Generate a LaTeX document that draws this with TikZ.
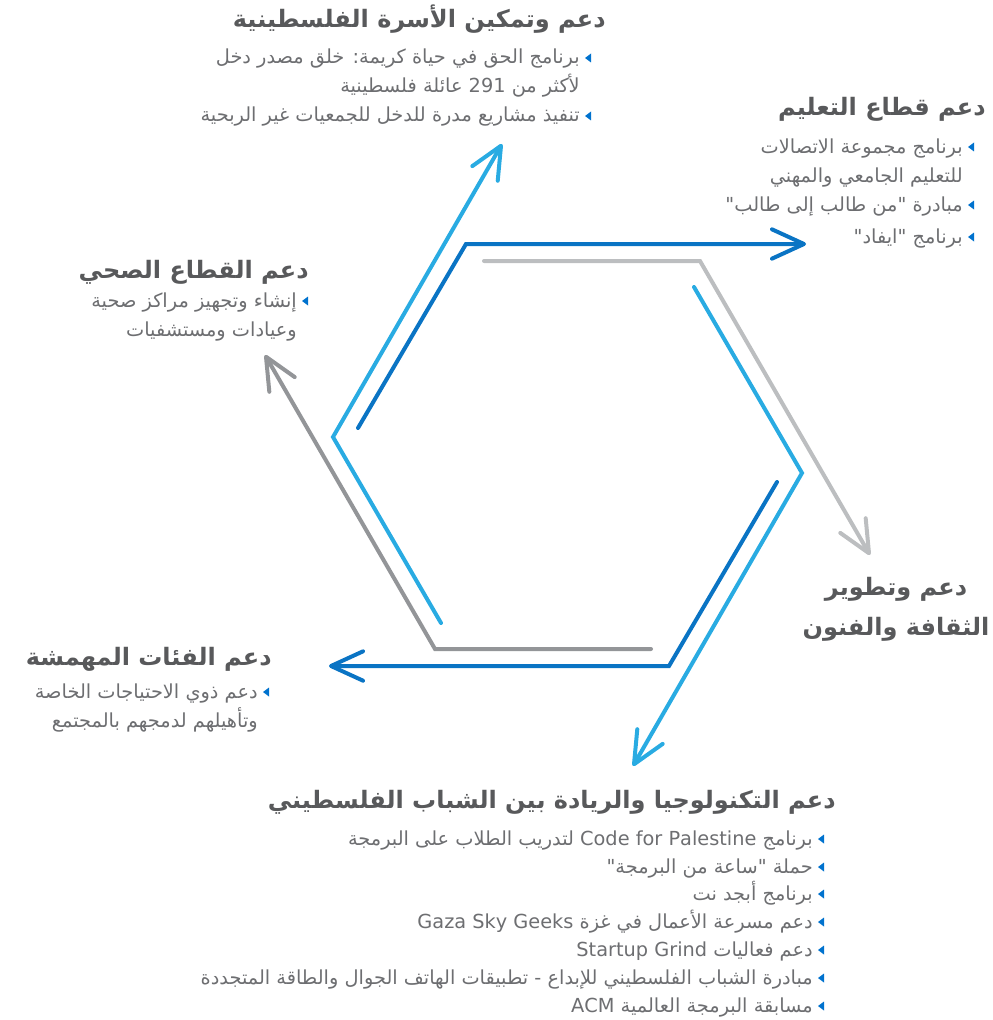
\documentclass[tikz,border=0pt]{standalone}
\usepackage{fontspec}
\usetikzlibrary{arrows.meta}
\TeXXeTstate=1
\newfontfamily\arabicfont[Script=Arabic]{DejaVu Sans}
\definecolor{dblue}{HTML}{0A74C4}
\definecolor{lblue}{HTML}{29ABE2}
\definecolor{lgrey}{HTML}{BCBEC0}
\definecolor{dgrey}{HTML}{939598}
\definecolor{ttlcol}{HTML}{58595B}
\definecolor{txtcol}{HTML}{6D6E71}
\definecolor{bulcol}{HTML}{0072CE}
\newcommand\rtl[1]{\beginR #1\endR}
\newcommand\ltr[1]{\beginL #1\endL{}}
\begin{document}
\begin{tikzpicture}[x=0.75pt,y=-0.75pt,
  conn/.style={line width=3pt, line cap=round, line join=miter,
    -{Straight Barb[length=24pt,width=22pt,round]}},
  ttl/.style={font=\arabicfont\bfseries\fontsize{18}{21}\selectfont, text=ttlcol, inner sep=0pt, anchor=base east},
  ttlc/.style={ttl, anchor=base},
  bdy/.style={font=\arabicfont\fontsize{14.5}{17}\selectfont, text=txtcol, inner sep=0pt, anchor=base east},
  pics/bulpic/.style={code={\fill[bulcol] (11,-10.5) -- (11,-1.5) -- (5,-6) -- cycle;}}]
\useasboundingbox (0,0) rectangle (992,1020);

% connectors
\coordinate (db1s) at (358,428); \coordinate (db1v) at (466,244); \coordinate (db1e) at (806,244);
\coordinate (db2s) at (777,482); \coordinate (db2v) at (669,666); \coordinate (db2e) at (329,666);
\coordinate (lg1s) at (484,261); \coordinate (lg1v) at (700,261); \coordinate (lg1e) at (870,555);
\coordinate (dg1s) at (651,649); \coordinate (dg1v) at (435,649); \coordinate (dg1e) at (265,355);
\coordinate (lb1s) at (441,623); \coordinate (lb1v) at (333,437); \coordinate (lb1e) at (502,144);
\coordinate (lb2s) at (694,287); \coordinate (lb2v) at (802,473); \coordinate (lb2e) at (633,766);

\draw[conn, draw=lgrey] (lg1s) -- (lg1v) -- (lg1e);
\draw[conn, draw=dgrey] (dg1s) -- (dg1v) -- (dg1e);
\draw[conn, draw=lblue] (lb1s) -- (lb1v) -- (lb1e);
\draw[conn, draw=lblue] (lb2s) -- (lb2v) -- (lb2e);
\draw[conn, draw=dblue] (db1s) -- (db1v) -- (db1e);
\draw[conn, draw=dblue] (db2s) -- (db2v) -- (db2e);

% family
\node[ttl] (t1) at (606,28) {\rtl{دعم وتمكين الأسرة الفلسطينية}};
\node[bdy] (b11) at (580,64) {\rtl{برنامج الحق في حياة كريمة: خلق مصدر دخل}};
\node[bdy] (b12) at (580,93) {\rtl{لأكثر من \ltr{291} عائلة فلسطينية}};
\node[bdy] (b13) at (580,122) {\rtl{تنفيذ مشاريع مدرة للدخل للجمعيات غير الربحية}};
\pic at (b11.base east) {bulpic}; \pic at (b13.base east) {bulpic};

% education
\node[ttl] (t2) at (986,116) {\rtl{دعم قطاع التعليم}};
\node[bdy] (b21) at (963,153) {\rtl{برنامج مجموعة الاتصالات}};
\node[bdy] (b22) at (963,182) {\rtl{للتعليم الجامعي والمهني}};
\node[bdy] (b23) at (963,211) {\rtl{مبادرة "من طالب إلى طالب"}};
\node[bdy] (b24) at (963,243) {\rtl{برنامج "ايفاد"}};
\pic at (b21.base east) {bulpic}; \pic at (b23.base east) {bulpic}; \pic at (b24.base east) {bulpic};

% health
\node[ttl] (t3) at (309,278) {\rtl{دعم القطاع الصحي}};
\node[bdy] (b31) at (297,307) {\rtl{إنشاء وتجهيز مراكز صحية}};
\node[bdy] (b32) at (297,336) {\rtl{وعيادات ومستشفيات}};
\pic at (b31.base east) {bulpic};

% marginalised
\node[ttl] (t4) at (272,665) {\rtl{دعم الفئات المهمشة}};
\node[bdy] (b41) at (258,698) {\rtl{دعم ذوي الاحتياجات الخاصة}};
\node[bdy] (b42) at (258,727) {\rtl{وتأهيلهم لدمجهم بالمجتمع}};
\pic at (b41.base east) {bulpic};

% culture
\node[ttlc] (t5a) at (896,595) {\rtl{دعم وتطوير}};
\node[ttlc] (t5b) at (896,635) {\rtl{الثقافة والفنون}};

% technology
\node[ttl] (t6) at (836,808) {\rtl{دعم التكنولوجيا والريادة بين الشباب الفلسطيني}};
\node[bdy] (b61) at (813,845) {\rtl{برنامج \ltr{Code for Palestine} لتدريب الطلاب على البرمجة}};
\node[bdy] (b62) at (813,873) {\rtl{حملة "ساعة من البرمجة"}};
\node[bdy] (b63) at (813,900) {\rtl{برنامج أبجد نت}};
\node[bdy] (b64) at (813,928) {\rtl{دعم مسرعة الأعمال في غزة \ltr{Gaza Sky Geeks}}};
\node[bdy] (b65) at (813,956) {\rtl{دعم فعاليات \ltr{Startup Grind}}};
\node[bdy] (b66) at (813,984) {\rtl{مبادرة الشباب الفلسطيني للإبداع - تطبيقات الهاتف الجوال والطاقة المتجددة}};
\node[bdy] (b67) at (813,1012) {\rtl{مسابقة البرمجة العالمية \ltr{ACM}}};
\foreach \n in {b61,b62,b63,b64,b65,b66,b67} {\pic at (\n.base east) {bulpic};}
\end{tikzpicture}
\end{document}
